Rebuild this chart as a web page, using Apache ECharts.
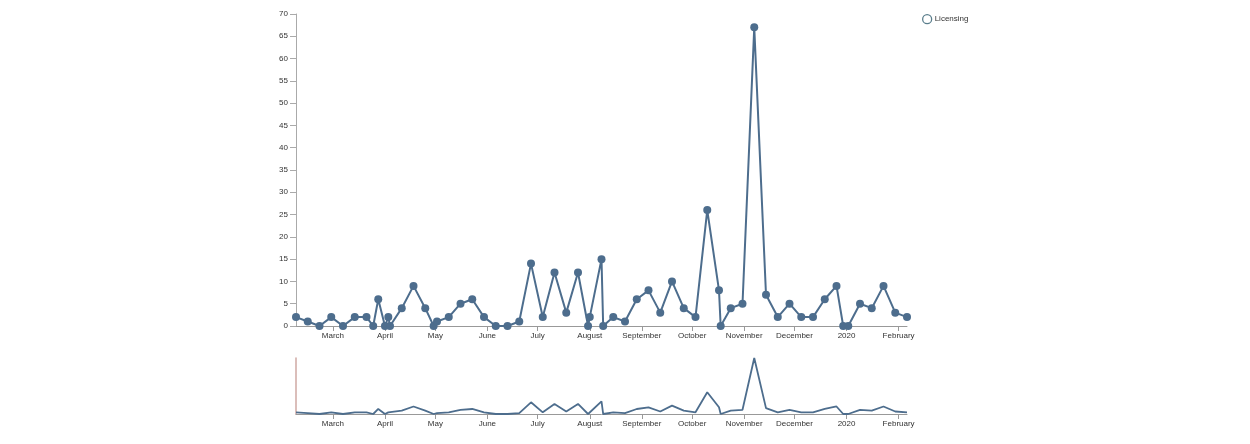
<!DOCTYPE html>
<html>
<head>
<meta charset="utf-8">
<script src="https://cdn.jsdelivr.net/npm/echarts@6/dist/echarts.min.js"></script>
<style>
html,body{margin:0;padding:0;background:#fff;}
#chart{width:1250px;height:444px;}
</style>
</head>
<body>
<div id="chart"></div>
<script>
var dates = ['2019-02-07','2019-02-14','2019-02-21','2019-02-28','2019-03-07','2019-03-14','2019-03-21','2019-03-25','2019-03-28','2019-04-01','2019-04-03','2019-04-04','2019-04-11','2019-04-18','2019-04-25','2019-04-30','2019-05-02','2019-05-09','2019-05-16','2019-05-23','2019-05-30','2019-06-06','2019-06-13','2019-06-20','2019-06-27','2019-07-04','2019-07-11','2019-07-18','2019-07-25','2019-07-31','2019-08-01','2019-08-08','2019-08-09','2019-08-15','2019-08-22','2019-08-29','2019-09-05','2019-09-12','2019-09-19','2019-09-26','2019-10-03','2019-10-10','2019-10-17','2019-10-18','2019-10-24','2019-10-31','2019-11-07','2019-11-14','2019-11-21','2019-11-28','2019-12-05','2019-12-12','2019-12-19','2019-12-26','2019-12-30','2020-01-02','2020-01-09','2020-01-16','2020-01-23','2020-01-30','2020-02-06'];
var licensing = [2,1,0,2,0,2,2,0,6,0,2,0,4,9,4,0,1,2,5,6,2,0,0,1,14,2,12,3,12,0,2,15,0,2,1,6,8,3,10,4,2,26,8,0,4,5,67,7,2,5,2,2,6,9,0,0,5,4,9,3,2];
var tickDates = ['2019-03-01','2019-04-01','2019-05-01','2019-06-01','2019-07-01','2019-08-01','2019-09-01','2019-10-01','2019-11-01','2019-12-01','2020-01-01','2020-02-01'];
var tickLabels = ['March','April','May','June','July','August','September','October','November','December','2020','February'];
var seriesName = 'Licensing';

function toTs(s){ var p = s.split('-'); return Date.UTC(+p[0], +p[1]-1, +p[2]); }
var data = dates.map(function(d,i){ return [toTs(d), licensing[i]]; });
var ticks = tickDates.map(toTs);
var xMin = toTs(dates[0]), xMax = toTs(dates[dates.length-1]);
function fmt(v){
  for (var i = 0; i < ticks.length; i++) { if (Math.abs(ticks[i] - v) < 1000) return tickLabels[i]; }
  return '';
}

var lineColor = '#4d6d8d';
var font = 'Liberation Sans, Arial, sans-serif';
function xAxisCfg(gi){
  return {
    type:'value', gridIndex:gi, min:xMin, max:xMax, scale:true,
    axisLine:{show:true, onZero:false, lineStyle:{color:'#999', width:1}},
    axisTick:{show:true, length:5, customValues:ticks, lineStyle:{color:'#999'}},
    axisLabel:{customValues:ticks, formatter:fmt, color:'#333', fontSize:8, fontFamily:font, margin:6},
    splitLine:{show:false}
  };
}
var chart = echarts.init(document.getElementById('chart'), null, {renderer:'canvas'});
chart.setOption({
  animation:false,
  backgroundColor:'#fff',
  legend:{
    data:[{name:seriesName, icon:'circle', itemStyle:{color:'#fff', borderColor:'#5a7e8c', borderWidth:1.3}}],
    left:917, top:9, itemWidth:9, itemHeight:9, itemGap:5,
    textStyle:{color:'#333', fontSize:8, fontFamily:font, padding:[0,0,0,-2]}
  },
  grid:[
    {left:296, right:343, top:14, bottom:118},
    {left:296, right:343, top:358, bottom:30}
  ],
  xAxis:[xAxisCfg(0), xAxisCfg(1)],
  yAxis:[
    {type:'value', gridIndex:0, min:0, max:70, interval:5,
     axisLine:{show:true, lineStyle:{color:'#aaa'}},
     axisTick:{show:true, length:6, lineStyle:{color:'#aaa'}},
     axisLabel:{color:'#333', fontSize:8, fontFamily:font, margin:8},
     splitLine:{show:false}},
    {type:'value', gridIndex:1, min:0, max:'dataMax',
     axisLine:{show:true, lineStyle:{color:'#cfa9a3', width:1.5}},
     axisTick:{show:false}, axisLabel:{show:false}, splitLine:{show:false}}
  ],
  series:[
    {name:seriesName, type:'line', xAxisIndex:0, yAxisIndex:0, data:data,
     symbol:'circle', symbolSize:8, showAllSymbol:true,
     itemStyle:{color:lineColor}, lineStyle:{color:lineColor, width:2}},
    {name:'overview', type:'line', xAxisIndex:1, yAxisIndex:1, data:data,
     symbol:'none', lineStyle:{color:lineColor, width:1.8}, itemStyle:{color:lineColor}}
  ]
});
</script>
</body>
</html>
